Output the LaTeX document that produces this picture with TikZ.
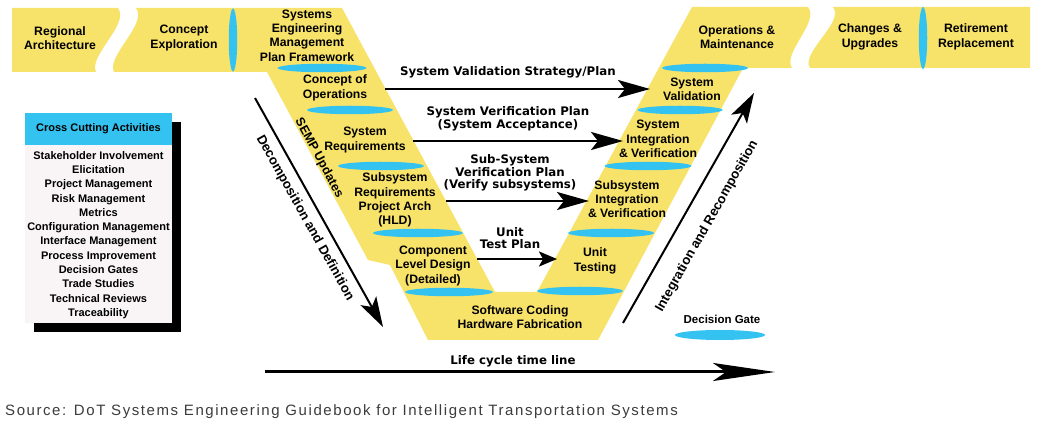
\documentclass[tikz,border=0pt]{standalone}
\usepackage{fontspec}
\setmainfont{Liberation Sans}
\newfontfamily\planfont{DejaVu Sans}
\usetikzlibrary{arrows.meta,shapes.geometric}

\definecolor{vyellow}{RGB}{247,226,106}
\definecolor{gatecyan}{RGB}{52,195,240}
\definecolor{panelfill}{RGB}{249,245,247}
\definecolor{sourcegray}{RGB}{60,60,60}

\begin{document}
\begin{tikzpicture}[x=1pt,y=-1pt,
  stage/.style={font=\bfseries\fontsize{12.2}{14.3}\selectfont, align=center, inner sep=0pt},
  plan/.style={font=\planfont\bfseries\fontsize{11.8}{12.6}\selectfont, align=center, inner sep=0pt},
  axislabel/.style={font=\bfseries\fontsize{13.2}{15}\selectfont, inner sep=0pt},
  gate/.style={ellipse, fill=gatecyan, inner sep=0pt, minimum width=#1, minimum height=8.5pt},
  vgate/.style={ellipse, fill=gatecyan, inner sep=0pt, minimum width=8.5pt, minimum height=#1},
  flow/.style={line width=2.6pt, -{Stealth[length=32pt,width=18pt,inset=7pt]}},
  shortflow/.style={line width=2.6pt, -{Stealth[length=18pt,width=15pt,inset=4pt]}},
  axisarrow/.style={line width=2pt, -{Stealth[length=30pt,width=18pt,inset=7pt]}},
  timeline/.style={line width=3pt, -{Stealth[length=62pt,width=18pt,inset=13pt]}},
]
\useasboundingbox (0,0) rectangle (1037,427);
\fill[white] (0,0) rectangle (1037,427);

% ---- yellow life-cycle band: left banner, the V, right banner ----
\fill[vyellow] (12,8) -- (118,8) .. controls (130,24) and (88,56) .. (96,72) -- (12,72) -- cycle;
\fill[vyellow] (136,8) -- (342,8) -- (495,292) -- (537,292) -- (692,7) -- (808,7)
  .. controls (820,22) and (782,53) .. (792,68) -- (743,68) -- (598,340) -- (428,340)
  -- (390,265) -- (368,260) -- (267,72) -- (114,72)
  .. controls (106,56) and (148,24) .. (136,8) -- cycle;
\fill[vyellow] (833,7) -- (1030,7) -- (1030,68) -- (810,68)
  .. controls (800,53) and (845,22) .. (833,7) -- cycle;

% ---- decision gates ----
\node[vgate=63pt] (gExp) at (233,40) {};
\node[vgate=62pt] (gRet) at (923,38) {};
\node[gate=89pt] (gL1) at (322,68) {};
\node[gate=86pt] (gL2) at (350,110) {};
\node[gate=86pt] (gL3) at (381,166) {};
\node[gate=90pt] (gL4) at (418,233) {};
\node[gate=88pt] (gL5) at (449,292) {};
\node[gate=86pt] (gR1) at (705,68) {};
\node[gate=85pt] (gR2) at (680,110) {};
\node[gate=87pt] (gR3) at (648,166) {};
\node[gate=86pt] (gR4) at (611,233) {};
\node[gate=86pt] (gR5) at (580,291) {};

% ---- stages ----
\node[stage] (regional) at (60,38) {Regional\\Architecture};
\node[stage] (explore) at (184,38) {Concept\\Exploration};
\node[stage] (semp) at (307,35.5) {Systems\\Engineering\\Management\\Plan Framework};
\node[stage] (conops) at (335,88) {Concept of\\Operations};
\node[stage] (sysreq) at (365,140) {System\\Requirements};
\node[stage] (subreq) at (395,200) {Subsystem\\Requirements\\Project Arch\\(HLD)};
\node[stage] (component) at (433,266) {Component\\Level Design\\(Detailed)};
\node[stage] (coding) at (520,317) {Software Coding\\Hardware Fabrication};
\node[stage] (unittest) at (595,261) {Unit\\Testing};
\node[stage] (subint) at (627,199) {Subsystem\\Integration\\\& Verification};
\node[stage] (sysint) at (658,139) {System\\Integration\\\& Verification};
\node[stage] (sysval) at (692,89) {System\\Validation};
\node[stage] (ops) at (737,37) {Operations \&\\Maintenance};
\node[stage] (changes) at (870,37) {Changes \&\\Upgrades};
\node[stage] (retire) at (976,37) {Retirement\\Replacement};
\node[stage, font=\bfseries\fontsize{12.5}{15}\selectfont, rotate=-61.7] (sempupd) at (319,158) {SEMP Updates};

% ---- verification / validation plans ----
\node[plan] (pValid) at (508,72) {System Validation Strategy/Plan};
\node[plan] (pSysVer) at (508,119) {System Verification Plan\\(System Acceptance)};
\node[plan] (pSubVer) at (510,173) {Sub-System\\Verification Plan\\(Verify subsystems)};
\node[plan] (pUnit) at (510,238) {Unit\\Test Plan};

\coordinate (a1s) at (385,89);  \coordinate (a1e) at (650,89);
\coordinate (a2s) at (413,141); \coordinate (a2e) at (623,141);
\coordinate (a3s) at (446,201); \coordinate (a3e) at (589,201);
\coordinate (a4s) at (477,259); \coordinate (a4e) at (557,259);
\draw[flow] (a1s) -- (a1e);
\draw[flow] (a2s) -- (a2e);
\draw[flow] (a3s) -- (a3e);
\draw[shortflow] (a4s) -- (a4e);

% ---- decomposition / integration axes ----
\coordinate (decA) at (255,98);  \coordinate (decB) at (383,327);
\coordinate (intA) at (623,323); \coordinate (intB) at (754,93);
\draw[axisarrow] (decA) -- (decB);
\draw[axisarrow] (intA) -- (intB);
\node[axislabel, rotate=-60.8] (declabel) at (305,218) {Decomposition and Definition};
\node[axislabel, rotate=60.5] (intlabel) at (707,226) {Integration and Recomposition};

% ---- legend ----
\node[font=\bfseries\fontsize{11.5}{13}\selectfont, inner sep=0pt] (legendtxt) at (722,319) {Decision Gate};
\node[gate=90pt, minimum height=10pt] (legendgate) at (720,335) {};

% ---- time line ----
\coordinate (tlA) at (265,372); \coordinate (tlB) at (775,372);
\draw[timeline] (tlA) -- (tlB);
\node[plan] (tllabel) at (513,361) {Life cycle time line};

% ---- cross cutting activities panel ----
\fill[black] (34,122) rectangle (181,332);
\fill[panelfill] (25,113) rectangle (172,323);
\fill[gatecyan] (25,113) rectangle (172,145);
\node[font=\bfseries\fontsize{11}{13}\selectfont, inner sep=0pt] (cchead) at (98.5,129) {Cross Cutting Activities};
\node[stage, font=\bfseries\fontsize{11}{14.3}\selectfont] (cclist) at (98.5,235)
  {Stakeholder Involvement\\Elicitation\\Project Management\\Risk Management\\Metrics\\Configuration Management\\Interface Management\\Process Improvement\\Decision Gates\\Trade Studies\\Technical Reviews\\Traceability};

% ---- source line ----
\node[anchor=base west, inner sep=0pt, text=sourcegray,
      font={\fontsize{15}{17}\selectfont\addfontfeature{LetterSpace=10.5}}] (source) at (5,416)
  {Source: DoT Systems Engineering Guidebook for Intelligent Transportation Systems};
\end{tikzpicture}
\end{document}
